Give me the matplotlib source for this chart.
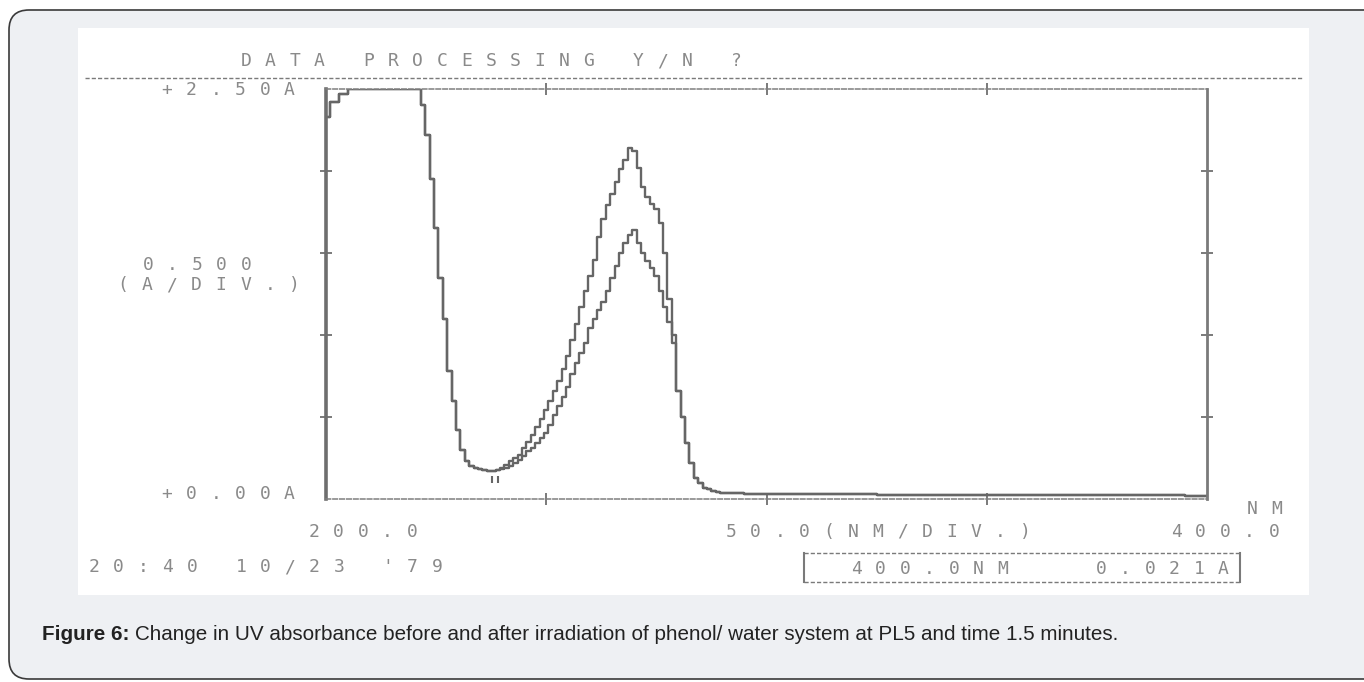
import numpy as np
import matplotlib
matplotlib.use("Agg")
import matplotlib.pyplot as plt
from matplotlib.patches import FancyBboxPatch, Rectangle
from matplotlib.lines import Line2D
from matplotlib.transforms import IdentityTransform

# ---------------- data ----------------
wavelength_nm = [200, 202, 204, 206, 208, 210, 212, 214, 216, 218,
                 220, 221, 222, 223, 224, 225, 226, 227, 228, 229,
                 230, 231, 232, 233, 234, 235, 236, 237, 238, 239,
                 240, 241, 242, 243, 244, 245, 246, 247, 248, 249,
                 250, 251, 252, 253, 254, 255, 256, 257, 258, 259,
                 260, 261, 262, 263, 264, 265, 266, 267, 268, 269,
                 270, 271, 272, 273, 274, 275, 276, 277, 278, 279,
                 280, 281, 282, 283, 284, 285, 286, 287, 288, 289,
                 290, 300, 310, 320, 330, 340, 350, 360, 370, 380, 390, 400]

absorbance_before = [2.33, 2.42, 2.47, 2.50, 2.50, 2.50, 2.50, 2.50, 2.50, 2.50,
                     2.50, 2.50, 2.40, 2.22, 1.95, 1.65, 1.35, 1.10, 0.78, 0.60,
                     0.42, 0.30, 0.23, 0.20, 0.19, 0.18, 0.175, 0.17, 0.17, 0.175,
                     0.19, 0.21, 0.23, 0.25, 0.27, 0.31, 0.35, 0.39, 0.44, 0.49,
                     0.54, 0.60, 0.66, 0.72, 0.79, 0.87, 0.97, 1.07, 1.17, 1.27,
                     1.36, 1.46, 1.60, 1.71, 1.79, 1.86, 1.93, 2.01, 2.07, 2.14,
                     2.12, 2.02, 1.90, 1.84, 1.80, 1.77, 1.68, 1.50, 1.22, 1.00,
                     0.66, 0.50, 0.34, 0.22, 0.13, 0.10, 0.07, 0.06, 0.05, 0.04,
                     0.035, 0.03, 0.03, 0.028, 0.027, 0.026, 0.025, 0.024, 0.023, 0.022, 0.022, 0.021]

absorbance_after = [2.33, 2.42, 2.47, 2.50, 2.50, 2.50, 2.50, 2.50, 2.50, 2.50,
                    2.50, 2.50, 2.40, 2.22, 1.95, 1.65, 1.35, 1.10, 0.78, 0.60,
                    0.42, 0.30, 0.23, 0.20, 0.19, 0.18, 0.175, 0.17, 0.17, 0.175,
                    0.18, 0.19, 0.20, 0.22, 0.24, 0.26, 0.29, 0.31, 0.34, 0.37,
                    0.40, 0.45, 0.51, 0.57, 0.62, 0.68, 0.76, 0.83, 0.89, 0.95,
                    1.04, 1.10, 1.15, 1.20, 1.27, 1.35, 1.42, 1.50, 1.56, 1.61,
                    1.64, 1.56, 1.50, 1.45, 1.41, 1.36, 1.27, 1.17, 1.08, 0.95,
                    0.66, 0.50, 0.34, 0.22, 0.13, 0.10, 0.07, 0.06, 0.05, 0.04,
                    0.035, 0.03, 0.03, 0.028, 0.027, 0.026, 0.025, 0.024, 0.023, 0.022, 0.022, 0.021]

cursor_nm = 238.4
cursor_abs = [0.10, 0.14]

x_range = [200, 400]
y_range = [0.0, 2.5]
x_ticks = [250, 300, 350]
y_ticks = [0.5, 1.0, 1.5, 2.0]

title_text = "DATA PROCESSING Y/N ?"
y_top_label = "+2.50A"
y_bottom_label = "+0.00A"
y_scale_label = ["0.500", "(A/DIV.)"]
x_left_label = "200.0"
x_mid_label = "50.0(NM/DIV.)"
x_right_label = "400.0"
x_unit_label = "NM"
date_label = "20:40 10/23 '79"
readout_label = "400.0NM   0.021A"
caption_bold = "Figure 6:"
caption_rest = ("Change in UV absorbance before and after irradiation of phenol/ "
                "water system at PL5 and time 1.5 minutes.")

# ---------------- figure ----------------
W, H = 1364, 682
fig = plt.figure(figsize=(W / 100, H / 100), dpi=100)
fig.patch.set_facecolor("white")
ID = IdentityTransform()


def fx(px):
    return px / W


def fy(py):
    return 1 - py / H


outer = FancyBboxPatch((9, H - 679), 1420, 669,
                       boxstyle="round,pad=0,rounding_size=20",
                       transform=ID, facecolor="#eef0f3",
                       edgecolor="#3a3a3a", linewidth=1.2, zorder=0)
fig.add_artist(outer)
panel = Rectangle((78, H - 595), 1309 - 78, 595 - 28, transform=ID,
                  facecolor="white", edgecolor="none", zorder=0.5)
fig.add_artist(panel)

TXT = "#8a8a8a"
LINE = "#7a7a7a"
PITCH = 24.5
FS = 13


def dot_text(s, x_left, y_base, pitch=PITCH, size=FS, color=TXT):
    for i, ch in enumerate(s):
        if ch != " ":
            fig.text(fx(x_left + 6 + i * pitch), fy(y_base), ch,
                     ha="center", va="baseline", fontsize=size,
                     family="DejaVu Sans Mono", color=color, zorder=3)


# header
dot_text(title_text, 240, 66)
fig.add_artist(Line2D([85, 1302], [H - 78, H - 78], transform=ID,
                      color=LINE, lw=1.0, linestyle=(0, (3, 1.5)), zorder=2))

# axes
ax_l, ax_r, ax_t, ax_b = 326, 1207, 89, 499
ax = fig.add_axes([fx(ax_l), fy(ax_b), (ax_r - ax_l) / W, (ax_b - ax_t) / H])
ax.set_facecolor("none")
ax.set_zorder(2)
ax.set_xlim(*x_range)
ax.set_ylim(*y_range)

ax.spines["left"].set(lw=2.6, color="#6e6e6e")
ax.spines["right"].set(lw=2.0, color="#7a7a7a")
for s in ["top", "bottom"]:
    ax.spines[s].set(lw=1.1, color="#7f7f7f", linestyle=(0, (3, 1.5)))

ax.set_xticks(x_ticks)
ax.set_yticks(y_ticks)
ax.tick_params(axis="both", which="major", direction="inout", length=9,
               width=1.4, color="#7a7a7a", labelleft=False, labelbottom=False,
               left=True, right=True, top=True, bottom=True)

ax.plot(wavelength_nm, absorbance_before, drawstyle="steps-mid",
        color="#666666", lw=1.7)
ax.plot(wavelength_nm, absorbance_after, drawstyle="steps-mid",
        color="#666666", lw=1.7)
ax.vlines([cursor_nm - 0.7, cursor_nm + 0.7], cursor_abs[0], cursor_abs[1],
          color="#666666", lw=1.5)

# axis labels in printer style
dot_text(y_top_label, 161, 95)
dot_text(y_scale_label[0], 142, 270)
dot_text(y_scale_label[1], 117, 290)
dot_text(y_bottom_label, 161, 499)
dot_text(x_left_label, 308, 537)
dot_text(x_mid_label, 725, 537)
dot_text(x_right_label, 1170, 537)
dot_text(x_unit_label, 1246, 514)
dot_text(date_label, 88, 572)

# readout box
bx0, bx1, by0, by1 = 804, 1240, 553, 582
fig.add_artist(Line2D([bx0, bx1], [H - by0, H - by0], transform=ID, color=LINE,
                      lw=1.0, linestyle=(0, (3, 1.5)), zorder=2))
fig.add_artist(Line2D([bx0, bx1], [H - by1, H - by1], transform=ID, color=LINE,
                      lw=1.0, linestyle=(0, (3, 1.5)), zorder=2))
fig.add_artist(Line2D([bx0, bx0], [H - by0, H - by1], transform=ID, color=LINE,
                      lw=1.5, zorder=2))
fig.add_artist(Line2D([bx1, bx1], [H - by0, H - by1], transform=ID, color=LINE,
                      lw=1.5, zorder=2))
dot_text(readout_label, 850, 574)

# caption (size fitted so that it spans the same width as the reference)
renderer = fig.canvas.get_renderer()
cap_left, cap_right, cap_y = 42, 1123, 634


def draw_caption(size):
    a = fig.text(fx(cap_left), fy(cap_y), caption_bold, fontsize=size,
                 weight="bold", family="Liberation Sans", color="#222222",
                 va="center", zorder=3)
    bb = a.get_window_extent(renderer)
    b = fig.text((bb.x1 + size * 0.35) / W, fy(cap_y), caption_rest,
                 fontsize=size, family="Liberation Sans", color="#222222",
                 va="center", zorder=3)
    return a, b


a, b = draw_caption(12.5)
width = b.get_window_extent(renderer).x1 - cap_left
size = 12.5 * (cap_right - cap_left) / width
a.remove()
b.remove()
draw_caption(size)

fig.savefig("out.png", dpi=100)
